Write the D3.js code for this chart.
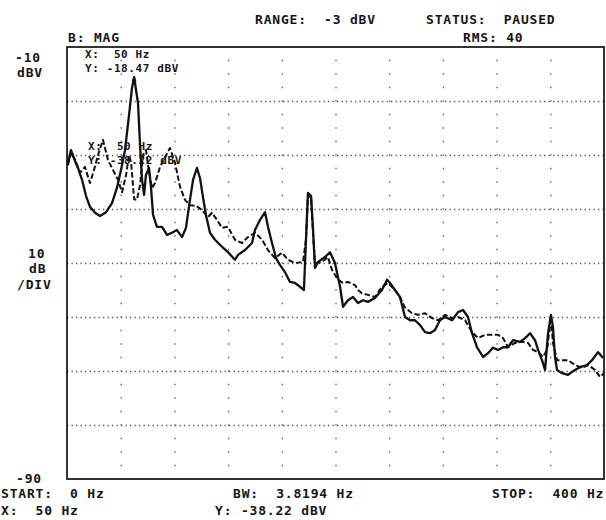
<!DOCTYPE html>
<html>
<head>
<meta charset="utf-8">
<script src="https://cdn.jsdelivr.net/npm/d3@7"></script>
<style>
  body { margin: 0; background: #fff; }
  svg text { font-family: "DejaVu Sans Mono", monospace; font-weight: bold; fill: #151515; }
</style>
</head>
<body>
<div id="chart"></div>
<script>
// spectrum: frequency (Hz) vs magnitude (dBV), two traces
const solidTrace = [[0.7,-31.5],[3.0,-29.1],[5.2,-30.6],[8.2,-32.4],[11.2,-34.6],[14.2,-37.6],[17.1,-39.6],[20.9,-40.7],[24.6,-41.3],[29.1,-40.6],[33.5,-38.9],[37.2,-36.1],[40.2,-32.8],[43.2,-29.1],[46.2,-22.6],[48.4,-17.6],[50.0,-15.6],[52.9,-20.4],[54.4,-28.1],[55.9,-34.6],[57.4,-37.4],[58.8,-33.7],[61.1,-32.4],[62.6,-36.1],[64.1,-41.1],[67.0,-43.3],[70.8,-43.3],[74.5,-44.8],[78.2,-44.4],[81.9,-43.9],[85.7,-45.2],[88.6,-43.5],[91.6,-38.3],[93.9,-34.6],[96.8,-32.4],[99.1,-34.3],[101.3,-37.8],[103.5,-41.1],[106.5,-44.4],[110.2,-45.7],[115.5,-47.0],[119.9,-48.0],[125.1,-49.4],[127.4,-48.5],[132.6,-47.6],[137.8,-46.3],[140.0,-43.9],[143.8,-42.0],[147.5,-40.6],[149.7,-43.3],[152.7,-46.3],[155.7,-49.1],[158.7,-50.4],[162.4,-51.7],[166.1,-53.5],[169.8,-53.7],[173.6,-54.4],[176.5,-55.0],[178.0,-45.7],[179.5,-37.0],[181.8,-37.6],[183.3,-43.9],[184.7,-50.9],[187.0,-49.8],[192.2,-48.9],[195.9,-48.0],[199.6,-50.0],[203.4,-54.4],[205.6,-58.1],[209.3,-56.9],[213.0,-56.3],[216.8,-57.4],[220.5,-56.9],[224.2,-57.2],[229.4,-56.5],[234.6,-55.0],[238.4,-53.1],[240.6,-53.7],[244.3,-55.0],[248.0,-56.3],[251.8,-60.0],[255.5,-60.6],[259.2,-60.6],[263.0,-61.5],[266.7,-62.8],[270.4,-63.0],[274.1,-62.4],[277.8,-60.6],[281.6,-60.0],[286.8,-60.6],[291.3,-59.1],[295.0,-58.7],[298.7,-60.0],[301.7,-63.0],[305.4,-65.6],[309.9,-67.4],[313.6,-66.7],[317.3,-65.7],[321.1,-66.1],[324.8,-65.6],[328.5,-65.6],[332.2,-64.3],[337.4,-64.6],[341.2,-63.9],[344.9,-63.0],[348.6,-64.3],[350.9,-66.1],[353.8,-68.0],[356.1,-69.8],[358.3,-63.0],[360.5,-59.6],[362.0,-61.9],[363.5,-67.4],[365.0,-69.8],[368.7,-70.4],[373.2,-70.7],[378.4,-69.8],[382.1,-69.3],[387.3,-68.9],[391.1,-68.0],[395.5,-66.5],[399.3,-67.6]];

const dashedTrace = [[0.7,-31.9],[3.0,-29.6],[6.0,-30.9],[9.7,-33.3],[13.4,-32.2],[17.1,-35.2],[20.1,-32.8],[23.1,-30.0],[26.8,-27.2],[30.5,-30.9],[34.3,-32.8],[38.0,-34.6],[41.0,-36.9],[44.0,-33.7],[46.2,-30.0],[47.7,-31.3],[50.0,-38.2],[52.1,-38.3],[54.4,-35.6],[56.6,-30.0],[58.8,-29.1],[61.1,-33.1],[63.3,-36.1],[65.6,-35.2],[69.3,-32.2],[73.0,-30.4],[76.7,-28.7],[80.5,-31.5],[84.2,-35.9],[87.9,-38.3],[91.6,-39.3],[96.1,-39.4],[100.6,-40.2],[105.0,-41.5],[108.0,-40.7],[111.7,-42.0],[115.5,-43.5],[119.9,-43.3],[125.1,-45.7],[130.4,-46.3],[134.8,-45.2],[140.0,-44.4],[145.3,-45.7],[149.7,-47.6],[154.9,-49.1],[160.1,-48.1],[164.6,-49.4],[169.8,-50.0],[175.8,-49.8],[178.0,-45.7],[179.5,-37.4],[181.8,-38.0],[183.3,-44.8],[184.7,-50.0],[190.0,-49.8],[194.4,-48.9],[197.4,-51.3],[201.9,-53.1],[205.6,-53.7],[209.3,-53.5],[214.5,-54.1],[216.8,-55.0],[219.7,-55.6],[224.2,-55.9],[229.4,-56.3],[234.6,-54.4],[239.1,-53.7],[244.3,-55.0],[248.0,-56.3],[251.8,-58.3],[257.0,-59.3],[261.5,-59.6],[266.7,-59.3],[271.9,-60.2],[276.4,-60.6],[281.6,-59.6],[286.8,-60.2],[291.3,-60.0],[296.5,-60.6],[301.7,-62.8],[306.2,-63.9],[311.4,-63.3],[316.6,-63.3],[321.1,-63.3],[324.8,-63.9],[328.5,-65.6],[333.7,-64.8],[338.9,-64.6],[343.4,-64.8],[347.1,-66.1],[350.9,-66.5],[354.6,-67.4],[357.6,-66.1],[360.5,-60.0],[362.0,-64.8],[365.0,-68.0],[368.7,-68.0],[373.2,-68.0],[378.4,-68.9],[383.6,-69.4],[388.1,-68.9],[393.3,-69.8],[397.0,-71.1],[400.0,-70.4]];

const gridHz = [40, 80, 120, 160, 200, 240, 280, 320, 360];
const gridDb = [-20, -30, -40, -50, -60, -70, -80];
const markerHz = 50;
const markerDb = -15.6;

const W = 606, H = 520;
const margin = { top: 47, right: 2, bottom: 41, left: 67 };
const width = W - margin.left - margin.right;
const height = H - margin.top - margin.bottom;

const svg = d3.select('#chart')
  .append('svg')
  .attr('width', W)
  .attr('height', H);

const g = svg.append('g')
  .attr('transform', `translate(${margin.left},${margin.top})`);

const x = d3.scaleLinear().domain([0, 400]).range([0, width]);
const y = d3.scaleLinear().domain([-90, -10]).range([height, 0]);

// dotted horizontal grid
g.append('g')
  .call(d3.axisLeft(y).tickValues(gridDb).tickSize(-width).tickFormat(''))
  .call(a => a.select('.domain').remove())
  .selectAll('line')
  .attr('stroke', '#555')
  .attr('stroke-width', 1.3)
  .attr('stroke-dasharray', '1.3,3.2');

// sparse dotted vertical grid
g.append('g')
  .attr('transform', `translate(0,${height})`)
  .call(d3.axisBottom(x).tickValues(gridHz).tickSize(-height).tickFormat(''))
  .call(a => a.select('.domain').remove())
  .selectAll('line')
  .attr('stroke', '#666')
  .attr('stroke-width', 1.4)
  .attr('stroke-dasharray', '1.4,12.1')
  .attr('stroke-dashoffset', 0.7);

// frame
g.append('rect')
  .attr('width', width)
  .attr('height', height)
  .attr('fill', 'none')
  .attr('stroke', '#111')
  .attr('stroke-width', 1.7);

const line = d3.line()
  .x(d => x(d[0]))
  .y(d => y(d[1]));

g.append('path')
  .datum(dashedTrace)
  .attr('fill', 'none')
  .attr('stroke', '#111')
  .attr('stroke-width', 2)
  .attr('stroke-dasharray', '5.5,2.5')
  .attr('stroke-linejoin', 'round')
  .attr('d', line);

g.append('path')
  .datum(solidTrace)
  .attr('fill', 'none')
  .attr('stroke', '#111')
  .attr('stroke-width', 2.3)
  .attr('stroke-linejoin', 'round')
  .attr('d', line);

// marker at the 50 Hz peak
g.append('path')
  .attr('d', `M${x(markerHz) - 2.5},${y(markerDb) + 4}L${x(markerHz)},${y(markerDb) - 1}L${x(markerHz) + 2.5},${y(markerDb) + 4}Z`)
  .attr('fill', '#111');

// text
const big = (s, tx, ty) => svg.append('text')
  .attr('x', tx).attr('y', ty)
  .style('font-size', '13px')
  .style('letter-spacing', '0.8px')
  .style('white-space', 'pre')
  .text(s);

const small = (s, tx, ty) => svg.append('text')
  .attr('x', tx).attr('y', ty)
  .style('font-size', '11px')
  .style('letter-spacing', '0.6px')
  .style('white-space', 'pre')
  .text(s);

big('RANGE:  -3 dBV', 255, 24);
big('STATUS:  PAUSED', 426, 24);
big('RMS: 40', 463, 42);
big('B: MAG', 68, 42);

big('-10', 15, 62);
big('dBV', 17, 77);
big('10', 28, 258);
big('dB', 29, 273);
big('/DIV', 17, 289);
big('-90', 16, 483);

small('X:  50 Hz', 85, 58);
small('Y: -18.47 dBV', 85, 72);
small('X:  50 Hz', 88, 150);
small('Y: -38.22 dBV', 88, 164);

big('START:  0 Hz', 1, 498);
big('BW:  3.8194 Hz', 233, 498);
big('STOP:  400 Hz', 492, 498);
big('X:  50 Hz', 1, 515);
big('Y: -38.22 dBV', 215, 515);
</script>
</body>
</html>
